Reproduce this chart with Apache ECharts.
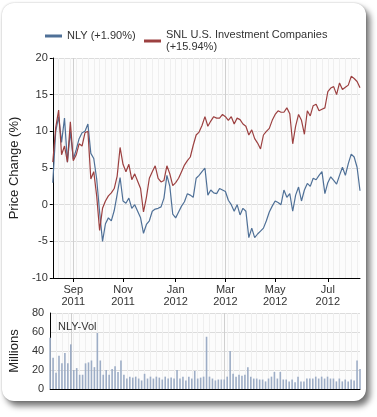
<!DOCTYPE html>
<html>
<head>
<meta charset="utf-8">
<script src="https://cdn.jsdelivr.net/npm/echarts@6/dist/echarts.min.js"></script>
<style>
  body { margin: 0; background: #fff; }
  #box {
    position: absolute; left: 2px; top: 3px; width: 364px; height: 398px;
    border-radius: 12px; background: #fff;
    box-shadow: 4px 5px 6px rgba(0,0,0,0.55), 0 0 2px rgba(0,0,0,0.25);
  }
  #main { position: absolute; left: 0; top: 0; width: 377px; height: 417px; }
</style>
</head>
<body>
<div id="box"></div>
<div id="main"></div>
<script>
// twice-weekly sample dates, Aug 2011 - Aug 2012
var dates = [
  '2011-08-08','2011-08-11','2011-08-15','2011-08-18','2011-08-22','2011-08-25','2011-08-29',
  '2011-09-01','2011-09-05','2011-09-08','2011-09-12','2011-09-15','2011-09-19','2011-09-22','2011-09-26','2011-09-29',
  '2011-10-03','2011-10-06','2011-10-10','2011-10-13','2011-10-17','2011-10-20','2011-10-24','2011-10-27','2011-10-31',
  '2011-11-03','2011-11-07','2011-11-10','2011-11-14','2011-11-17','2011-11-21','2011-11-24','2011-11-28',
  '2011-12-01','2011-12-05','2011-12-08','2011-12-12','2011-12-15','2011-12-19','2011-12-22','2011-12-26','2011-12-29',
  '2012-01-02','2012-01-05','2012-01-09','2012-01-12','2012-01-16','2012-01-19','2012-01-23','2012-01-26','2012-01-30',
  '2012-02-02','2012-02-06','2012-02-09','2012-02-13','2012-02-16','2012-02-20','2012-02-23','2012-02-27',
  '2012-03-01','2012-03-05','2012-03-08','2012-03-12','2012-03-15','2012-03-19','2012-03-22','2012-03-26','2012-03-29',
  '2012-04-02','2012-04-05','2012-04-09','2012-04-12','2012-04-16','2012-04-19','2012-04-23','2012-04-26','2012-04-30',
  '2012-05-03','2012-05-07','2012-05-10','2012-05-14','2012-05-17','2012-05-21','2012-05-24','2012-05-28','2012-05-31',
  '2012-06-04','2012-06-07','2012-06-11','2012-06-14','2012-06-18','2012-06-21','2012-06-25','2012-06-28',
  '2012-07-02','2012-07-05','2012-07-09','2012-07-12','2012-07-16','2012-07-19','2012-07-23','2012-07-26','2012-07-30',
  '2012-08-02','2012-08-06','2012-08-09'
];

var nly = [
  3.0, 10.0, 12.0, 8.5, 11.8, 5.8, 10.0, 6.2, 7.5, 9.0, 9.8, 10.0, 11.0, 7.0, 6.3, 3.5,
  -1.0, -5.0, -2.6, -1.8, -2.2, -0.8, 1.4, 3.7, 0.5,
  0.2, 0.9, -0.5, 0.0, -0.9, -1.8, -3.9, -2.7,
  -2.2, -0.9, -0.6, -0.5, -0.3, 0.9, 4.0, 2.5, -1.3,
  -1.8, -1.0, -0.2, 0.4, 1.5, 1.3, 1.0, 3.6, 4.0,
  4.5, 5.0, 1.3, 2.0, 1.6, 1.5, 2.2, 2.0,
  1.8, 0.6, 0.0, -0.9, 0.0, -1.4, -0.5, -0.9, -4.5,
  -3.2, -4.5, -4.0, -3.6, -3.2, -2.2, -1.0, -0.2, 0.5,
  0.3, 0.0, 2.0, 1.0, 1.5, -0.9, 1.3, 2.4, 0.5,
  2.0, 2.9, 2.5, 3.6, 3.4, 4.0, 4.5, 1.5,
  3.0, 3.8, 3.3, 2.8, 4.0, 5.1, 4.0, 5.6, 6.9,
  6.5, 5.1, 1.9
];

var snl = [
  5.8, 10.5, 12.9, 6.8, 8.0, 5.8, 11.3, 6.0, 6.8, 8.3, 8.0, 9.8, 10.0, 3.5, 4.5, 1.2,
  -3.5, -0.5, 0.5, 1.2, 1.6, 2.2, 3.9, 7.8, 5.5,
  4.5, 5.5, 3.4, 4.2, 3.2, 2.2, -1.0, 1.0,
  3.6, 4.5, 5.3, 3.6, 3.1, 3.3, 5.3, 4.2, 2.6,
  3.0, 3.6, 4.5, 5.4, 6.0, 6.5, 8.1, 9.5, 9.9,
  10.8, 12.0, 10.7, 11.4, 12.0, 11.8, 11.8, 12.3,
  12.0, 11.5, 12.0, 11.0, 11.8, 11.6, 11.0, 10.7, 9.5,
  10.2, 9.0, 8.4, 7.6, 9.5, 10.0, 10.4, 11.5, 12.3,
  12.8, 12.6, 12.6, 13.2, 12.4, 8.3, 10.7, 12.3, 11.5,
  9.6, 12.8, 12.1, 13.5, 13.7, 12.8, 13.0, 13.2,
  15.4, 15.9, 16.1, 15.0, 16.6, 15.7, 16.0, 16.3, 17.5,
  17.2, 16.8, 15.94
];

// NLY volume, millions of shares
var vol = [
  54, 33, 17, 35, 27, 38, 27, 47, 20, 22, 15, 15, 27, 28, 30, 23,
  59, 30, 15, 20, 15, 21, 24, 18, 30,
  15, 11, 13, 12, 13, 11, 9, 16,
  11, 13, 11, 13, 12, 10, 13, 11, 12,
  11, 20, 11, 13, 9, 13, 11, 19, 11,
  12, 13, 55, 13, 11, 9, 10, 10,
  10, 13, 40, 16, 13, 15, 14, 15, 23,
  13, 11, 11, 10, 10, 8, 11, 13, 18,
  11, 18, 10, 10, 8, 10, 7, 13, 8,
  8, 11, 11, 11, 13, 11, 13, 11,
  13, 11, 11, 8, 11, 8, 10, 8, 10,
  9, 30, 21
];

var tickDates = ['2011-09-01','2011-10-31','2012-01-02','2012-03-01','2012-04-30','2012-07-02'];
var tickLabels = ['Sep\n2011','Nov\n2011','Jan\n2012','Mar\n2012','May\n2012','Jul\n2012'];

var FONT = 'Liberation Sans, Arial, sans-serif';
var isTick = function (i, v) { return tickDates.indexOf(v) >= 0; };
var legendText = { color: '#333', fontFamily: FONT, fontSize: 11, lineHeight: 12 };

var chart = echarts.init(document.getElementById('main'));

function mainX(grid, labels) {
  return {
    type: 'category', gridIndex: grid, data: dates, boundaryGap: false,
    axisLine: { onZero: false, lineStyle: { color: '#000', width: 1 } },
    axisTick: { show: labels, interval: isTick, length: 4, lineStyle: { color: '#000' } },
    axisLabel: {
      show: labels, interval: isTick, color: '#333', fontFamily: FONT, fontSize: 11,
      lineHeight: 12, margin: 6,
      formatter: function (v) { return tickLabels[tickDates.indexOf(v)]; }
    },
    splitLine: { show: true, interval: isTick, lineStyle: { color: '#cfcfcf' } }
  };
}
function minorX(grid) {
  return {
    type: 'category', gridIndex: grid, data: dates, boundaryGap: false,
    axisLine: { show: false }, axisTick: { show: false }, axisLabel: { show: false },
    splitLine: { show: true, interval: 1, lineStyle: { color: '#efefef' } }
  };
}

var option = {
  animation: false,
  legend: [
    {
      left: 40, top: 25, itemWidth: 17, itemHeight: 3, icon: 'rect',
      textStyle: legendText, data: ['NLY (+1.90%)']
    },
    {
      left: 139, top: 24, itemWidth: 17, itemHeight: 3, icon: 'rect',
      textStyle: legendText, data: ['SNL U.S. Investment Companies\n(+15.94%)']
    }
  ],
  title: {
    text: 'NLY-Vol', left: 53, top: 316,
    textStyle: { color: '#333', fontFamily: FONT, fontSize: 11, fontWeight: 'normal' }
  },
  grid: [
    { left: 44, top: 58, width: 316, height: 220, show: true, backgroundColor: '#fcfcfc', borderWidth: 0 },
    { left: 44, top: 313, width: 316, height: 76, show: true, backgroundColor: '#fcfcfc', borderWidth: 0 }
  ],
  xAxis: [mainX(0, true), minorX(0), mainX(1, false), minorX(1)],
  yAxis: [
    {
      type: 'value', gridIndex: 0, min: -10, max: 20, interval: 5,
      name: 'Price Change (%)', nameLocation: 'middle', nameGap: 27,
      nameTextStyle: { color: '#222', fontFamily: FONT, fontSize: 13 },
      axisLine: { show: true, onZero: false, lineStyle: { color: '#000' } },
      axisTick: { show: true, length: 3, lineStyle: { color: '#000' } },
      axisLabel: { color: '#333', fontFamily: FONT, fontSize: 11, margin: 5 },
      splitLine: { lineStyle: { color: '#dcdcdc' } }
    },
    {
      type: 'value', gridIndex: 1, min: 0, max: 80, interval: 20,
      name: 'Millions', nameLocation: 'middle', nameGap: 27,
      nameTextStyle: { color: '#222', fontFamily: FONT, fontSize: 13 },
      axisLine: { show: true, onZero: false, lineStyle: { color: '#000' } },
      axisTick: { show: false },
      axisLabel: { color: '#333', fontFamily: FONT, fontSize: 11, margin: 6 },
      splitLine: { lineStyle: { color: '#dcdcdc' } }
    }
  ],
  series: [
    {
      name: 'NLY (+1.90%)', type: 'line', xAxisIndex: 0, yAxisIndex: 0,
      data: nly, symbol: 'none', color: '#4f7097',
      lineStyle: { width: 1.2 }
    },
    {
      name: 'SNL U.S. Investment Companies\n(+15.94%)', type: 'line', xAxisIndex: 0, yAxisIndex: 0,
      data: snl, symbol: 'none', color: '#9c4040',
      lineStyle: { width: 1.2 }
    },
    {
      name: 'NLY-Vol', type: 'bar', xAxisIndex: 2, yAxisIndex: 1,
      data: vol, barWidth: 1.6, color: '#9dadc6'
    }
  ]
};

chart.setOption(option);
</script>
</body>
</html>
